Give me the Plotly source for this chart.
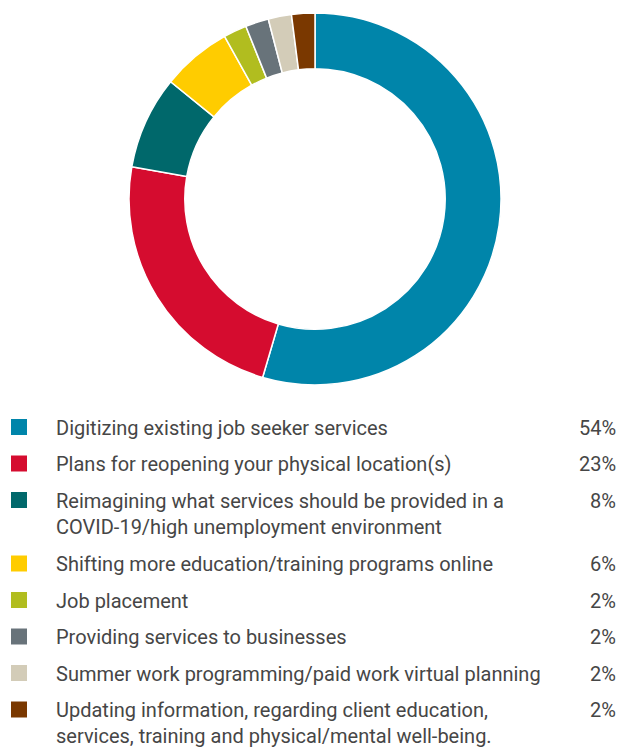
import plotly.graph_objects as go

# Survey responses: share of respondents per priority
labels = [
    "Digitizing existing job seeker services",
    "Plans for reopening your physical location(s)",
    "Reimagining what services should be provided in a<br>COVID-19/high unemployment environment",
    "Shifting more education/training programs online",
    "Job placement",
    "Providing services to businesses",
    "Summer work programming/paid work virtual planning",
    "Updating information, regarding client education,<br>services, training and physical/mental well-being.",
]
values = [54, 23, 8, 6, 2, 2, 2, 2]
colors = ["#0085AA", "#D50C2F", "#00686B", "#FFCC00",
          "#B1BD1F", "#68737A", "#D3CCB8", "#7A3800"]

W, H = 620, 747
TEXT = "#464646"
FONT = "Roboto"

fig = go.Figure()
fig.add_trace(go.Pie(
    labels=[l.replace("<br>", " ") for l in labels],
    values=values,
    marker=dict(colors=colors, line=dict(color="white", width=1.5)),
    hole=0.70,
    sort=False,
    direction="clockwise",
    rotation=0,
    textinfo="none",
    hoverinfo="label+percent",
    showlegend=False,
    domain=dict(x=[129 / W, 501 / W], y=[1 - 385 / H, 1 - 13 / H]),
))

# Legend table drawn below the ring
shapes = []
annotations = []
y_px = 427.0
for lab, val, col in zip(labels, values, colors):
    n_lines = lab.count("<br>") + 1
    shapes.append(dict(
        type="rect", xref="paper", yref="paper",
        x0=11 / W, x1=27 / W,
        y0=1 - (y_px + 8) / H, y1=1 - (y_px - 8) / H,
        fillcolor=col, line=dict(width=0),
    ))
    annotations.append(dict(
        xref="paper", yref="paper", x=54 / W, y=1 - (y_px - 13.5) / H,
        xanchor="left", yanchor="top", align="left",
        text=lab, showarrow=False,
        font=dict(family=FONT, size=20, color=TEXT),
    ))
    annotations.append(dict(
        xref="paper", yref="paper", x=618 / W, y=1 - (y_px - 13.5) / H,
        xanchor="right", yanchor="top", align="right",
        text=f"{val}%", showarrow=False,
        font=dict(family=FONT, size=20, color=TEXT),
    ))
    y_px += 36.5 + 27 * (n_lines - 1)

fig.update_layout(
    width=W, height=H,
    margin=dict(l=0, r=0, t=0, b=0),
    paper_bgcolor="white",
    plot_bgcolor="white",
    shapes=shapes,
    annotations=annotations,
)

fig.write_html("out.html")
